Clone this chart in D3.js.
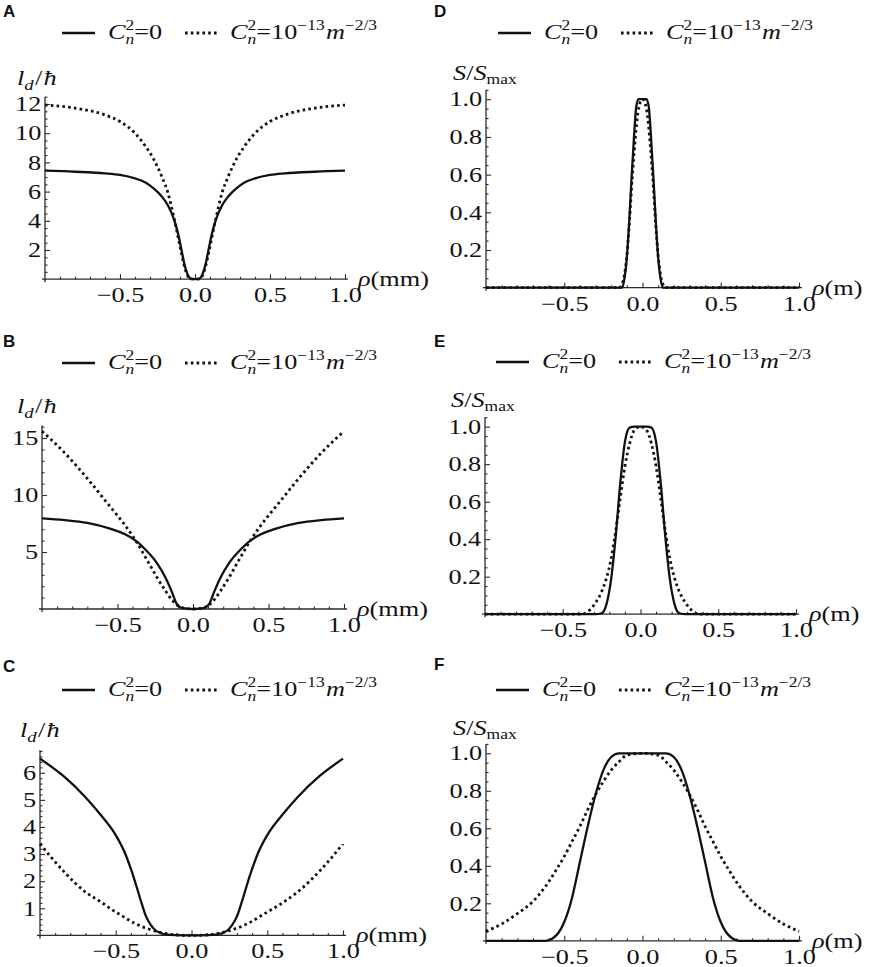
<!DOCTYPE html>
<html>
<head>
<meta charset="utf-8">
<script src="https://cdn.jsdelivr.net/npm/d3@7"></script>
<style>
body { margin: 0; background: #fff; }
svg { display: block; }
</style>
</head>
<body>
<div id="chart"></div>
<script>
// ---- data ----
var xTicks = [-0.5, 0, 0.5, 1.0];
var aTicks = [2, 4, 6, 8, 10, 12];
var bTicks = [5, 10, 15];
var cTicks = [1, 2, 3, 4, 5, 6];
var sTicks = [0.2, 0.4, 0.6, 0.8, 1.0];

// A : l_d / hbar, mm
var aRho    = [-1, -0.8, -0.6, -0.5, -0.4, -0.33, -0.28, -0.22, -0.18, -0.14, -0.11, -0.09, -0.07, -0.05, -0.03, 0, 0.03, 0.05, 0.07, 0.09, 0.11, 0.14, 0.18, 0.22, 0.28, 0.33, 0.4, 0.5, 0.6, 0.8, 1];
var aSolid  = [7.43, 7.36, 7.25, 7.14, 6.9, 6.62, 6.25, 5.65, 5.05, 4.1, 3.0, 2.0, 1.0, 0.35, 0.05, 0, 0.05, 0.35, 1.0, 2.0, 3.0, 4.1, 5.05, 5.65, 6.25, 6.62, 6.9, 7.14, 7.25, 7.36, 7.43];
var aDotted = [11.93, 11.72, 11.25, 10.8, 10.0, 9.1, 8.3, 7.0, 5.9, 4.2, 2.75, 1.75, 0.85, 0.25, 0.03, 0, 0.03, 0.25, 0.85, 1.75, 2.75, 4.2, 5.9, 7.0, 8.3, 9.1, 10.0, 10.8, 11.25, 11.72, 11.93];

// B
var bRho    = [-1, -0.85, -0.7, -0.55, -0.45, -0.38, -0.3, -0.24, -0.18, -0.14, -0.11, -0.08, -0.05, 0, 0.05, 0.08, 0.11, 0.14, 0.18, 0.24, 0.3, 0.38, 0.45, 0.55, 0.7, 0.85, 1];
var bSolid  = [7.95, 7.8, 7.55, 7.05, 6.55, 6.0, 5.0, 4.05, 2.7, 1.5, 0.5, 0.13, 0.05, 0, 0.05, 0.13, 0.5, 1.5, 2.7, 4.05, 5.0, 6.0, 6.55, 7.05, 7.55, 7.8, 7.95];
var bDotted = [15.6, 13.7, 11.45, 9.0, 7.35, 6.0, 4.2, 2.8, 1.55, 0.8, 0.4, 0.15, 0.05, 0, 0.05, 0.15, 0.4, 0.8, 1.55, 2.8, 4.2, 6.0, 7.35, 9.0, 11.45, 13.7, 15.6];

// C
var cRho    = [-1, -0.85, -0.7, -0.6, -0.5, -0.44, -0.4, -0.36, -0.33, -0.3, -0.27, -0.24, -0.2, -0.16, -0.1, 0, 0.1, 0.16, 0.2, 0.24, 0.27, 0.3, 0.33, 0.36, 0.4, 0.44, 0.5, 0.6, 0.7, 0.85, 1];
var cSolid  = [6.52, 5.9, 5.1, 4.45, 3.7, 3.05, 2.45, 1.75, 1.2, 0.7, 0.4, 0.2, 0.08, 0.03, 0.01, 0, 0.01, 0.03, 0.08, 0.2, 0.4, 0.7, 1.2, 1.75, 2.45, 3.05, 3.7, 4.45, 5.1, 5.9, 6.52];
var cDotted = [3.38, 2.4, 1.6, 1.24, 0.86, 0.66, 0.52, 0.41, 0.33, 0.27, 0.21, 0.16, 0.1, 0.06, 0.015, 0, 0.015, 0.06, 0.1, 0.16, 0.21, 0.27, 0.33, 0.41, 0.52, 0.66, 0.86, 1.2, 1.6, 2.4, 3.38];

// D : S / Smax, m
var dRho    = [-1, -0.5, -0.15, -0.13, -0.115, -0.1, -0.085, -0.07, -0.055, -0.04, -0.025, 0, 0.025, 0.04, 0.055, 0.07, 0.085, 0.1, 0.115, 0.13, 0.15, 0.5, 1];
var dSolid  = [0, 0, 0, 0, 0.05, 0.16, 0.35, 0.58, 0.79, 0.96, 1.0, 1.0, 1.0, 0.96, 0.79, 0.58, 0.35, 0.16, 0.05, 0, 0, 0, 0];
var dDotted = [0, 0, 0, 0.02, 0.07, 0.17, 0.33, 0.53, 0.7, 0.85, 0.95, 1.0, 0.95, 0.85, 0.7, 0.53, 0.33, 0.17, 0.07, 0.02, 0, 0, 0];

// E
var eRho    = [-1, -0.5, -0.38, -0.33, -0.29, -0.25, -0.22, -0.19, -0.16, -0.13, -0.1, -0.07, -0.04, 0, 0.04, 0.07, 0.1, 0.13, 0.16, 0.19, 0.22, 0.25, 0.29, 0.33, 0.38, 0.5, 1];
var eSolid  = [0, 0, 0, 0, 0, 0.005, 0.05, 0.18, 0.41, 0.7, 0.92, 0.995, 1.0, 1.0, 1.0, 0.995, 0.92, 0.7, 0.41, 0.18, 0.05, 0.005, 0, 0, 0, 0, 0];
var eDotted = [0, 0, 0, 0.02, 0.06, 0.12, 0.19, 0.29, 0.44, 0.62, 0.79, 0.91, 0.98, 1.0, 0.98, 0.91, 0.79, 0.62, 0.44, 0.29, 0.19, 0.12, 0.06, 0.02, 0, 0, 0];

// F
var fRho    = [-1, -0.9, -0.8, -0.7, -0.62, -0.55, -0.5, -0.45, -0.4, -0.35, -0.3, -0.25, -0.2, -0.15, -0.1, 0, 0.1, 0.15, 0.2, 0.25, 0.3, 0.35, 0.4, 0.45, 0.5, 0.55, 0.62, 0.7, 0.8, 0.9, 1];
var fSolid  = [0, 0, 0, 0, 0, 0.03, 0.1, 0.23, 0.42, 0.61, 0.78, 0.91, 0.98, 1.0, 1.0, 1.0, 1.0, 1.0, 0.98, 0.91, 0.78, 0.61, 0.42, 0.23, 0.1, 0.03, 0, 0, 0, 0, 0];
var fDotted = [0.05, 0.09, 0.145, 0.21, 0.29, 0.38, 0.45, 0.53, 0.61, 0.7, 0.78, 0.85, 0.91, 0.955, 0.99, 1.0, 0.99, 0.955, 0.91, 0.85, 0.78, 0.7, 0.61, 0.53, 0.45, 0.38, 0.29, 0.21, 0.145, 0.09, 0.05];

// ---- layout ----
var width = 872, height = 967;
var sx = 1.25;   // the original figure is stretched sideways
var serif = "'Liberation Serif', 'Times New Roman', serif";
var ink = "#111";

var panels = [
	{id: "A", rho: aRho, solid: aSolid, dotted: aDotted, yTicks: aTicks, yMax: 12.5, minor: 0.5, fmt: "d", kind: "l", unit: "mm",
	 x0: 45, x1: 345, y0: 279.2, y1: 96.7, lgx: 62, lgy: 33, ltx: 3, lty: 17, ylx: 17, yly: 85},
	{id: "B", rho: bRho, solid: bSolid, dotted: bDotted, yTicks: bTicks, yMax: 16.1, minor: 1, fmt: "d", kind: "l", unit: "mm",
	 x0: 42, x1: 344, y0: 609, y1: 425.5, lgx: 62, lgy: 363, ltx: 3, lty: 347, ylx: 17, yly: 413},
	{id: "C", rho: cRho, solid: cSolid, dotted: cDotted, yTicks: cTicks, yMax: 6.84, minor: 0.2, fmt: "d", kind: "l", unit: "mm",
	 x0: 40, x1: 343, y0: 935.4, y1: 750, lgx: 62, lgy: 690, ltx: 3, lty: 672, ylx: 20, yly: 737},
	{id: "D", rho: dRho, solid: dSolid, dotted: dDotted, yTicks: sTicks, yMax: 1.05, minor: 0.05, fmt: ".1f", kind: "s", unit: "m",
	 x0: 486, x1: 799, y0: 287.7, y1: 89.8, lgx: 498, lgy: 33, ltx: 434, lty: 17, ylx: 453, yly: 80},
	{id: "E", rho: eRho, solid: eSolid, dotted: eDotted, yTicks: sTicks, yMax: 1.05, minor: 0.05, fmt: ".1f", kind: "s", unit: "m",
	 x0: 485, x1: 796, y0: 614.2, y1: 417.3, lgx: 496, lgy: 362, ltx: 434, lty: 347, ylx: 451, yly: 407},
	{id: "F", rho: fRho, solid: fSolid, dotted: fDotted, yTicks: sTicks, yMax: 1.05, minor: 0.05, fmt: ".1f", kind: "s", unit: "m",
	 x0: 486, x1: 799, y0: 940.8, y1: 743.9, lgx: 496, lgy: 690, ltx: 434, lty: 670, ylx: 453, yly: 735}
];

var svg = d3.select("#chart")
	.append("svg")
		.attr("width", width)
		.attr("height", height);

function stretched(parent, x, y) {
	return parent.append("text")
		.attr("transform", "translate(" + x + "," + y + ") scale(" + sx + ",1)")
		.attr("font-family", serif)
		.attr("font-size", 21)
		.attr("fill", ink);
}

function solidStyle(sel) {
	sel.attr("fill", "none").attr("stroke", ink).attr("stroke-width", 2.3);
}
function dottedStyle(sel) {
	sel.attr("fill", "none").attr("stroke", ink).attr("stroke-width", 2.8)
		.attr("stroke-dasharray", "2.6,3.2");
}

function legend(g, lx, ly) {
	g.append("line").attr("x1", lx).attr("x2", lx + 33).attr("y1", ly).attr("y2", ly).call(solidStyle);
	var t1 = stretched(g, lx + 46, ly + 6);
	t1.append("tspan").attr("font-style", "italic").text("C");
	t1.append("tspan").attr("font-size", 14).attr("dy", -9).text("2");
	t1.append("tspan").attr("font-size", 14).attr("font-style", "italic").attr("dx", -7).attr("dy", 14).text("n");
	t1.append("tspan").attr("dy", -5).text("=0");

	g.append("line").attr("x1", lx + 123).attr("x2", lx + 155).attr("y1", ly).attr("y2", ly).call(dottedStyle);
	var t2 = stretched(g, lx + 168, ly + 6);
	t2.append("tspan").attr("font-style", "italic").text("C");
	t2.append("tspan").attr("font-size", 14).attr("dy", -9).text("2");
	t2.append("tspan").attr("font-size", 14).attr("font-style", "italic").attr("dx", -7).attr("dy", 14).text("n");
	t2.append("tspan").attr("dy", -5).text("=10");
	t2.append("tspan").attr("font-size", 14).attr("dy", -9).text("\u221213");
	t2.append("tspan").attr("font-style", "italic").attr("dx", 1).attr("dy", 9).text("m");
	t2.append("tspan").attr("font-size", 14).attr("dy", -9).text("\u22122/3");
}

function yLabel(g, p) {
	var t = stretched(g, p.ylx, p.yly);
	if (p.kind == "l") {
		t.append("tspan").attr("font-style", "italic").text("l");
		t.append("tspan").attr("font-style", "italic").attr("font-size", 15).attr("dy", 5).text("d");
		t.append("tspan").attr("dy", -5).attr("dx", 1).text("/");
		t.append("tspan").attr("font-style", "italic").attr("dx", 1).text("\u0127");
	} else {
		t.append("tspan").attr("font-style", "italic").text("S");
		t.append("tspan").text("/");
		t.append("tspan").attr("font-style", "italic").text("S");
		t.append("tspan").attr("font-size", 14).attr("dy", 4).text("max");
	}
}

function drawPanel(p) {
	var x = d3.scaleLinear().domain([-1, 1]).range([p.x0, p.x1]);
	var y = d3.scaleLinear().domain([0, p.yMax]).range([p.y0, p.y1]);
	var g = svg.append("g");

	g.append("text")
		.attr("x", p.ltx).attr("y", p.lty)
		.attr("font-family", "'Liberation Sans', Arial, sans-serif")
		.attr("font-weight", "bold").attr("font-size", 17)
		.attr("fill", ink)
		.text(p.id);

	legend(g, p.lgx, p.lgy);
	yLabel(g, p);

	// axis lines, slightly overshooting like the original
	g.append("line").attr("x1", p.x0 - 3).attr("x2", p.x1 + 3).attr("y1", p.y0).attr("y2", p.y0)
		.attr("stroke", "#2b2b2b").attr("stroke-width", 1.3);
	g.append("line").attr("x1", p.x0).attr("x2", p.x0).attr("y1", p.y1).attr("y2", p.y0 + 3)
		.attr("stroke", "#2b2b2b").attr("stroke-width", 1.3);

	var xMinor = d3.range(-9, 11).map(function(i) { return i / 10; })
		.filter(function(v) { return xTicks.every(function(t) { return Math.abs(t - v) > 1e-6; }); });
	var nMinor = Math.floor(p.yMax / p.minor + 1e-6);
	var yMinor = d3.range(1, nMinor + 1).map(function(i) { return i * p.minor; })
		.filter(function(v) { return p.yTicks.every(function(t) { return Math.abs(t - v) > 1e-6; }); });

	g.append("g")
		.attr("transform", "translate(0," + p.y0 + ")")
		.call(d3.axisBottom(x).tickValues(xMinor).tickSize(-2.5).tickSizeOuter(0).tickFormat(""))
		.call(function(s) { s.select(".domain").remove(); });
	var xa = g.append("g")
		.attr("transform", "translate(0," + p.y0 + ")")
		.call(d3.axisBottom(x).tickValues(xTicks).tickSize(-5).tickSizeOuter(0).tickPadding(8).tickFormat(d3.format(".1f")));
	xa.select(".domain").remove();

	g.append("g")
		.attr("transform", "translate(" + p.x0 + ",0)")
		.call(d3.axisLeft(y).tickValues(yMinor).tickSize(-2.5).tickSizeOuter(0).tickFormat(""))
		.call(function(s) { s.select(".domain").remove(); });
	var ya = g.append("g")
		.attr("transform", "translate(" + p.x0 + ",0)")
		.call(d3.axisLeft(y).tickValues(p.yTicks).tickSize(-5).tickSizeOuter(0).tickPadding(3).tickFormat(d3.format(p.fmt)));
	ya.select(".domain").remove();

	g.selectAll(".tick line").attr("stroke", "#2b2b2b").attr("stroke-width", 1.1);
	[xa, ya].forEach(function(a) {
		a.selectAll("text")
			.attr("font-family", serif)
			.attr("font-size", 21)
			.attr("fill", ink)
			.attr("transform", "scale(" + sx + ",1)");
	});

	var t = stretched(g, p.x1 + 13, p.y0 + 7);
	t.append("tspan").attr("font-style", "italic").text("\u03c1");
	t.append("tspan").text("(" + p.unit + ")");

	var line = d3.line()
		.x(function(d) { return x(d[0]); })
		.y(function(d) { return y(d[1]); })
		.curve(d3.curveMonotoneX);

	g.append("path").datum(d3.zip(p.rho, p.solid)).attr("d", line).call(solidStyle);
	g.append("path").datum(d3.zip(p.rho, p.dotted)).attr("d", line).call(dottedStyle);
}

panels.forEach(drawPanel);
</script>
</body>
</html>
